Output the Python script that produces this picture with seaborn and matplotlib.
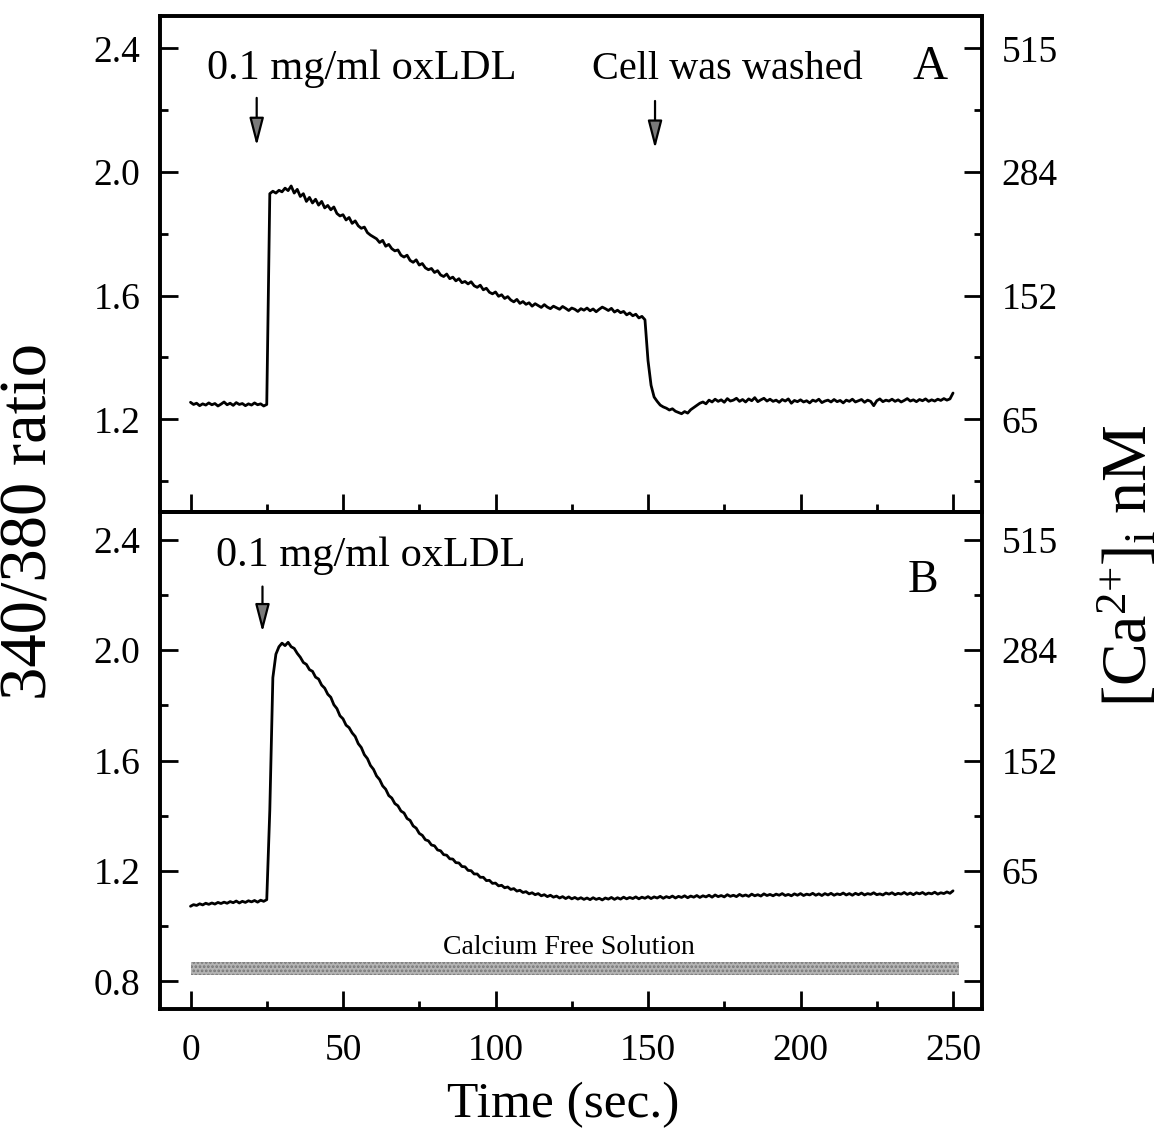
import matplotlib
matplotlib.use("Agg")
import matplotlib.pyplot as plt
import seaborn as sns
from matplotlib.ticker import MultipleLocator

# ---------------- data ----------------
time_s = list(range(0, 251))

ratio_a = [
    1.255, 1.248, 1.252, 1.244, 1.250, 1.246, 1.253, 1.247, 1.251, 1.243,
    1.249, 1.256, 1.247, 1.252, 1.245, 1.254, 1.248, 1.251, 1.244, 1.250,
    1.246, 1.253, 1.247, 1.250, 1.243, 1.248, 1.930, 1.938, 1.932, 1.941,
    1.936, 1.948, 1.940, 1.955, 1.932, 1.944, 1.921, 1.930, 1.905, 1.918,
    1.900, 1.912, 1.893, 1.905, 1.884, 1.892, 1.878, 1.887, 1.866, 1.858,
    1.862, 1.845, 1.853, 1.834, 1.842, 1.826, 1.818, 1.822, 1.804, 1.796,
    1.790, 1.784, 1.772, 1.779, 1.760, 1.766, 1.752, 1.745, 1.748, 1.731,
    1.725, 1.731, 1.714, 1.708, 1.716, 1.699, 1.704, 1.690, 1.684, 1.688,
    1.675, 1.681, 1.667, 1.662, 1.670, 1.655, 1.660, 1.648, 1.655, 1.642,
    1.646, 1.638, 1.645, 1.632, 1.627, 1.634, 1.619, 1.624, 1.611, 1.606,
    1.612, 1.598, 1.603, 1.591, 1.597, 1.586, 1.580, 1.588, 1.575, 1.581,
    1.572, 1.577, 1.566, 1.574, 1.568, 1.562, 1.571, 1.563, 1.558, 1.566,
    1.561, 1.556, 1.565, 1.559, 1.552, 1.560, 1.556, 1.549, 1.558, 1.553,
    1.560, 1.551, 1.557, 1.548, 1.556, 1.563, 1.558, 1.552, 1.559, 1.547,
    1.553, 1.545, 1.549, 1.538, 1.544, 1.535, 1.540, 1.528, 1.533, 1.522,
    1.390, 1.310, 1.272, 1.258, 1.246, 1.240, 1.236, 1.230, 1.234, 1.226,
    1.222, 1.218, 1.225, 1.220, 1.231, 1.238, 1.245, 1.252, 1.256, 1.250,
    1.262, 1.256, 1.265, 1.258, 1.263, 1.255, 1.267, 1.259, 1.262, 1.268,
    1.258, 1.264, 1.256, 1.266, 1.260, 1.270, 1.257, 1.263, 1.268, 1.259,
    1.265, 1.258, 1.262, 1.255, 1.264, 1.259, 1.266, 1.252, 1.261, 1.257,
    1.263, 1.256, 1.260, 1.253, 1.262, 1.258, 1.265, 1.254, 1.259, 1.262,
    1.256, 1.264, 1.257, 1.261, 1.253, 1.262, 1.258, 1.265, 1.256, 1.260,
    1.264, 1.255, 1.262, 1.258, 1.244, 1.260, 1.266, 1.257, 1.262, 1.259,
    1.265, 1.258, 1.263, 1.256, 1.261, 1.267, 1.259, 1.263, 1.257, 1.264,
    1.260, 1.266, 1.258, 1.263, 1.259, 1.265, 1.261, 1.267, 1.262, 1.266,
    1.285,
]

ratio_b = [
    1.072, 1.078, 1.075, 1.081, 1.077, 1.083, 1.079, 1.084, 1.080, 1.086,
    1.082, 1.087, 1.083, 1.089, 1.085, 1.091, 1.084, 1.090, 1.086, 1.092,
    1.088, 1.093, 1.087, 1.094, 1.090, 1.096, 1.420, 1.900, 1.985, 2.012,
    2.025, 2.016, 2.028, 2.012, 2.006, 1.988, 1.974, 1.955, 1.948, 1.929,
    1.923, 1.902, 1.895, 1.873, 1.862, 1.840, 1.829, 1.802, 1.788, 1.762,
    1.751, 1.728, 1.719, 1.700, 1.687, 1.661, 1.647, 1.621, 1.607, 1.582,
    1.568, 1.544, 1.531, 1.508, 1.496, 1.473, 1.464, 1.444, 1.436, 1.417,
    1.410, 1.390, 1.383, 1.363, 1.355, 1.336, 1.329, 1.313, 1.309, 1.294,
    1.291, 1.276, 1.273, 1.259, 1.257, 1.244, 1.243, 1.230, 1.229, 1.216,
    1.215, 1.202, 1.201, 1.189, 1.189, 1.177, 1.177, 1.165, 1.166, 1.155,
    1.156, 1.146, 1.148, 1.139, 1.142, 1.133, 1.136, 1.127, 1.130, 1.122,
    1.125, 1.117, 1.121, 1.114, 1.118, 1.110, 1.114, 1.107, 1.112, 1.105,
    1.109, 1.102, 1.107, 1.100, 1.106, 1.099, 1.104, 1.098, 1.103, 1.097,
    1.102, 1.096, 1.103, 1.097, 1.101, 1.095, 1.102, 1.098, 1.104, 1.097,
    1.103, 1.098, 1.105, 1.099, 1.104, 1.100, 1.106, 1.099, 1.105, 1.101,
    1.107, 1.100, 1.106, 1.102, 1.108, 1.101, 1.107, 1.103, 1.109, 1.102,
    1.108, 1.104, 1.110, 1.103, 1.109, 1.105, 1.111, 1.104, 1.110, 1.106,
    1.112, 1.105, 1.113, 1.107, 1.111, 1.106, 1.114, 1.108, 1.112, 1.107,
    1.115, 1.109, 1.113, 1.108, 1.116, 1.110, 1.114, 1.109, 1.117, 1.111,
    1.115, 1.110, 1.116, 1.112, 1.118, 1.111, 1.115, 1.110, 1.117, 1.112,
    1.118, 1.111, 1.116, 1.113, 1.119, 1.112, 1.117, 1.111, 1.118, 1.113,
    1.119, 1.112, 1.117, 1.114, 1.120, 1.113, 1.118, 1.112, 1.119, 1.114,
    1.120, 1.113, 1.118, 1.115, 1.121, 1.114, 1.117, 1.113, 1.120, 1.116,
    1.121, 1.114, 1.119, 1.116, 1.122, 1.115, 1.120, 1.114, 1.121, 1.117,
    1.122, 1.115, 1.120, 1.117, 1.123, 1.116, 1.121, 1.118, 1.124, 1.119,
    1.128,
]

x_ticks = [0, 50, 100, 150, 200, 250]
x_tick_labels = ["0", "50", "100", "150", "200", "250"]
ratio_ticks_a = [1.2, 1.6, 2.0, 2.4]
ratio_ticks_b = [0.8, 1.2, 1.6, 2.0, 2.4]
ratio_tick_labels_a = ["1.2", "1.6", "2.0", "2.4"]
ratio_tick_labels_b = ["0.8", "1.2", "1.6", "2.0", "2.4"]
ca_ticks_a = [1.2, 1.6, 2.0, 2.4]
ca_labels_a = ["65", "152", "284", "515"]
ca_ticks_b = [0.8, 1.2, 1.6, 2.0, 2.4]
ca_labels_b = ["", "65", "152", "284", "515"]

band_time = [0, 252]
band_low = [0.824, 0.824]
band_high = [0.871, 0.871]

# events (time, arrow tail, arrow tip)
oxldl_a = (21.7, 2.24, 2.085)
wash_a = (152.3, 2.23, 2.076)
oxldl_b = (23.6, 2.23, 2.065)

# ---------------- style ----------------
sns.set_theme(style="white")
plt.rcParams["font.family"] = ["Liberation Serif", "DejaVu Serif"]
plt.rcParams["mathtext.fontset"] = "custom"
plt.rcParams["mathtext.rm"] = "Liberation Serif"
plt.rcParams["mathtext.it"] = "Liberation Serif:italic"
plt.rcParams["hatch.linewidth"] = 1.3
for key in ("text.color", "axes.labelcolor", "xtick.color", "ytick.color",
            "axes.edgecolor"):
    plt.rcParams[key] = "black"

W, H = 1162, 1142
fig = plt.figure(figsize=(W / 100, H / 100), dpi=100)
L, R = 160, 982
ax_a = fig.add_axes([L / W, (H - 512) / H, (R - L) / W, 496 / H])
ax_b = fig.add_axes([L / W, (H - 1009) / H, (R - L) / W, 497 / H])

TICK_FS = 27
XLIM = (-10, 259.5)


def style_axes(ax, ylim, yticks, ylabels, ca_ticks, ca_labels, show_x):
    ax.set_xlim(*XLIM)
    ax.set_ylim(*ylim)
    ax.set_xticks(x_ticks)
    ax.set_xticklabels(x_tick_labels if show_x else [""] * len(x_ticks))
    ax.xaxis.set_minor_locator(MultipleLocator(25))
    ax.set_yticks(yticks)
    ax.set_yticklabels(ylabels)
    ax.yaxis.set_minor_locator(MultipleLocator(0.2))
    ax.tick_params(which="both", direction="in", width=2.0, colors="black",
                   top=False, right=False, left=True, bottom=True)
    ax.tick_params(which="major", length=13, labelsize=TICK_FS)
    ax.tick_params(which="minor", length=6)
    ax.tick_params(axis="x", which="major", pad=18, labelbottom=show_x)
    ax.tick_params(axis="y", which="major", pad=14)
    for sp in ax.spines.values():
        sp.set_linewidth(2.6)
        sp.set_color("black")
    ax.set_xlabel("")
    ax.set_ylabel("")

    ax2 = ax.twinx()
    ax2.set_ylim(*ylim)
    ax2.set_yticks(ca_ticks)
    ax2.set_yticklabels(ca_labels)
    ax2.yaxis.set_minor_locator(MultipleLocator(0.2))
    ax2.tick_params(which="both", direction="in", width=2.0, colors="black")
    ax2.tick_params(which="major", length=13, labelsize=TICK_FS, pad=14)
    ax2.tick_params(which="minor", length=6)
    for sp in ax2.spines.values():
        sp.set_linewidth(2.6)
        sp.set_color("black")
    return ax2


# ---------------- panel A ----------------
sns.lineplot(x=time_s, y=ratio_a, ax=ax_a, color="black", linewidth=2.0,
             estimator=None)
style_axes(ax_a, (0.9, 2.505), ratio_ticks_a, ratio_tick_labels_a,
           ca_ticks_a, ca_labels_a, show_x=False)

# ---------------- panel B ----------------
sns.lineplot(x=time_s, y=ratio_b, ax=ax_b, color="black", linewidth=2.0,
             estimator=None)
ax_b.fill_between(band_time, band_low, band_high, facecolor="#b4b4b4",
                  edgecolor="#767676", hatch="....", linewidth=0.0)
style_axes(ax_b, (0.7, 2.5), ratio_ticks_b, ratio_tick_labels_b,
           ca_ticks_b, ca_labels_b, show_x=True)

# ---------------- annotations ----------------
arrow_kw = dict(arrowstyle="-|>,head_length=0.85,head_width=0.22",
                lw=1.6, ec="black", fc="#7a7a7a", shrinkA=0, shrinkB=0,
                mutation_scale=20)

ax_a.text(56, 2.30, "0.1 mg/ml oxLDL", fontsize=30.5, ha="center",
          va="baseline")
ax_a.text(176, 2.30, "Cell was washed", fontsize=29, ha="center",
          va="baseline")
ax_a.text(242.5, 2.30, "A", fontsize=35, ha="center", va="baseline")
for (t, tail, tip) in (oxldl_a, wash_a):
    ax_a.annotate("", xy=(t, tip), xytext=(t, tail), arrowprops=arrow_kw)

ax_b.text(59, 2.306, "0.1 mg/ml oxLDL", fontsize=30.5, ha="center",
          va="baseline")
ax_b.text(240, 2.21, "B", fontsize=33, ha="center", va="baseline")
t, tail, tip = oxldl_b
ax_b.annotate("", xy=(t, tip), xytext=(t, tail), arrowprops=arrow_kw)
ax_b.text(124, 0.90, "Calcium Free Solution", fontsize=20, ha="center",
          va="baseline")

# ---------------- axis titles ----------------
fig.text(30 / W, 1 - 521 / H, "340/380 ratio", rotation=90, fontsize=48,
         ha="center", va="center")
fig.text(1130 / W, 1 - 566 / H, r"[Ca$^{2{+}}$]$_{\mathrm{i}}$ nM",
         rotation=90, fontsize=46, ha="center", va="center")
fig.text(563 / W, 1 - 1105 / H, "Time (sec.)", fontsize=37, ha="center",
         va="center")

fig.savefig("out.png", dpi=100, facecolor="white")
